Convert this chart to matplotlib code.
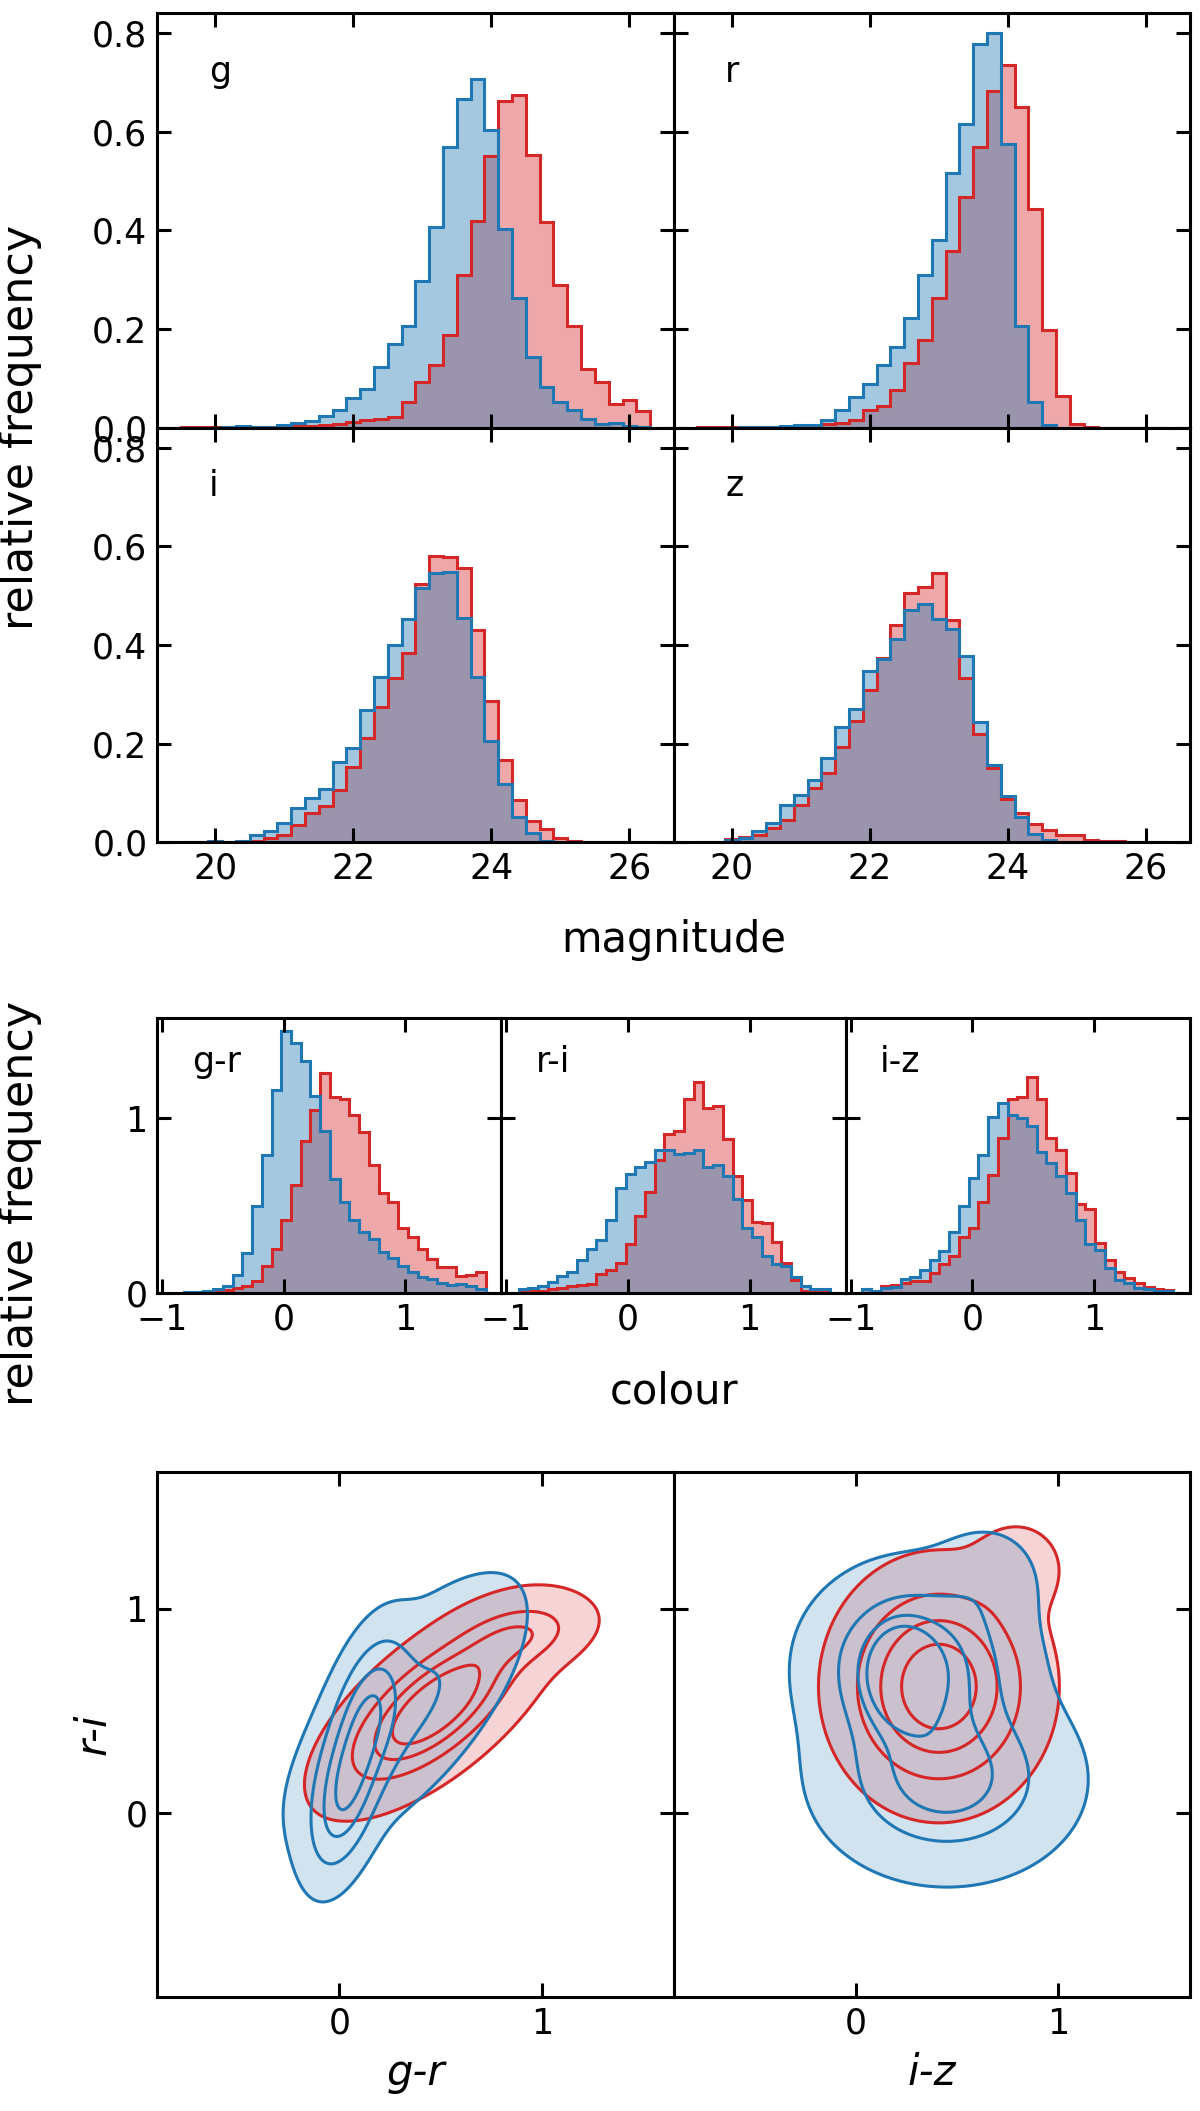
import numpy as np
import matplotlib
matplotlib.use("Agg")
import matplotlib.pyplot as plt

BLUE = "#1f77b4"
RED = "#d62728"

# ---- magnitude histograms (relative frequency), bins of 0.2 mag starting at 19.5
mag_lo, mag_step = 19.5, 0.2
mag_bands = ["g", "r", "i", "z"]

g_blue = [0, 0, 0, 0.001, 0.003, 0.001, 0.002, 0.005, 0.010, 0.014, 0.024, 0.035,
          0.061, 0.078, 0.122, 0.169, 0.206, 0.297, 0.407, 0.570, 0.666, 0.707,
          0.603, 0.403, 0.262, 0.144, 0.082, 0.052, 0.036, 0.018, 0.007, 0.010,
          0.003, 0.002]
g_red = [0.001, 0.002, 0.002, 0.002, 0.001, 0.001, 0.002, 0.002, 0.003, 0.003,
         0.005, 0.007, 0.012, 0.016, 0.018, 0.022, 0.052, 0.093, 0.127, 0.187,
         0.309, 0.419, 0.551, 0.663, 0.675, 0.553, 0.418, 0.290, 0.206, 0.119,
         0.093, 0.048, 0.056, 0.034]
r_blue = [0, 0, 0, 0.001, 0.001, 0.002, 0.003, 0.005, 0.005, 0.015, 0.035, 0.063,
          0.088, 0.127, 0.163, 0.223, 0.309, 0.380, 0.516, 0.615, 0.778, 0.801,
          0.576, 0.206, 0.052, 0.005, 0, 0, 0, 0, 0, 0, 0, 0]
r_red = [0.001, 0.001, 0.001, 0.001, 0.001, 0.001, 0.002, 0.003, 0.003, 0.007,
         0.010, 0.015, 0.035, 0.044, 0.076, 0.132, 0.177, 0.262, 0.359, 0.468,
         0.569, 0.683, 0.736, 0.650, 0.443, 0.199, 0.064, 0.007, 0.001, 0, 0, 0,
         0, 0]
i_blue = [0, 0, 0.002, 0.001, 0.003, 0.015, 0.022, 0.038, 0.070, 0.089, 0.107,
          0.162, 0.190, 0.267, 0.335, 0.400, 0.453, 0.515, 0.546, 0.547, 0.455,
          0.335, 0.205, 0.118, 0.051, 0.019, 0.003, 0.001, 0, 0, 0, 0, 0, 0]
i_red = [0.001, 0.001, 0.001, 0.001, 0.001, 0.003, 0.009, 0.015, 0.034, 0.058,
         0.074, 0.105, 0.152, 0.212, 0.275, 0.333, 0.383, 0.523, 0.580, 0.578,
         0.556, 0.430, 0.286, 0.166, 0.086, 0.043, 0.027, 0.008, 0.002, 0.001,
         0, 0, 0, 0]
z_blue = [0, 0.001, 0.005, 0.008, 0.023, 0.038, 0.075, 0.096, 0.125, 0.170, 0.233,
          0.269, 0.347, 0.371, 0.412, 0.470, 0.484, 0.453, 0.432, 0.378, 0.244,
          0.157, 0.094, 0.051, 0.017, 0.005, 0.001, 0, 0, 0, 0, 0, 0, 0]
z_red = [0.001, 0.001, 0.007, 0.010, 0.015, 0.029, 0.044, 0.075, 0.109, 0.140,
         0.193, 0.246, 0.308, 0.373, 0.441, 0.506, 0.518, 0.546, 0.450, 0.332,
         0.220, 0.150, 0.087, 0.058, 0.036, 0.025, 0.014, 0.015, 0.005, 0.003,
         0.002, 0.001, 0.001, 0.001]

# ---- colour histograms, bins of 0.08 mag
col_step = 0.08
col_names = ["g-r", "r-i", "i-z"]
col_lo = [-0.82, -0.90, -0.91]

gr_blue = [0.005, 0.008, 0.012, 0.02, 0.04, 0.105, 0.23, 0.50, 0.79, 1.16, 1.50,
           1.43, 1.33, 1.13, 0.93, 0.65, 0.52, 0.42, 0.35, 0.31, 0.235, 0.20,
           0.153, 0.12, 0.09, 0.08, 0.057, 0.044, 0.05, 0.038, 0.023]
gr_red = [0, 0, 0.003, 0.008, 0.015, 0.03, 0.04, 0.067, 0.153, 0.25, 0.42, 0.62,
          0.87, 1.05, 1.26, 1.12, 1.11, 1.02, 0.92, 0.73, 0.57, 0.52, 0.37, 0.32,
          0.25, 0.195, 0.15, 0.15, 0.096, 0.105, 0.12]
ri_blue = [0.02, 0.03, 0.04, 0.064, 0.097, 0.12, 0.19, 0.25, 0.305, 0.42, 0.60,
           0.68, 0.72, 0.75, 0.82, 0.82, 0.795, 0.80, 0.82, 0.72, 0.73, 0.67, 0.54,
           0.37, 0.32, 0.21, 0.164, 0.155, 0.093, 0.04, 0.025, 0.02]
ri_red = [0.005, 0.01, 0.013, 0.02, 0.03, 0.04, 0.048, 0.054, 0.106, 0.13, 0.174,
          0.28, 0.44, 0.58, 0.76, 0.91, 0.93, 1.11, 1.21, 1.06, 1.07, 0.88, 0.67,
          0.535, 0.405, 0.40, 0.29, 0.174, 0.077, 0.01, 0.01, 0.005]
iz_blue = [0.02, 0.013, 0.03, 0.035, 0.08, 0.09, 0.13, 0.19, 0.24, 0.35, 0.50,
           0.66, 0.79, 1.01, 1.09, 1.02, 1.00, 0.955, 0.805, 0.745, 0.67, 0.57,
           0.42, 0.28, 0.245, 0.145, 0.077, 0.058, 0.029, 0.02, 0.014, 0.01]
iz_red = [0.025, 0.013, 0.04, 0.048, 0.058, 0.068, 0.068, 0.116, 0.168, 0.21,
          0.32, 0.37, 0.52, 0.675, 0.89, 1.11, 1.125, 1.235, 1.11, 0.89, 0.82,
          0.685, 0.51, 0.48, 0.285, 0.187, 0.12, 0.087, 0.058, 0.035, 0.02, 0.017]

# ---- colour-colour densities: gaussian components (weight, x0, y0, sx, sy, rho)
gr_ri_blue = [(0.30, 0.03, 0.10, 0.095, 0.21, 0.45),
              (0.30, 0.14, 0.48, 0.100, 0.21, 0.45),
              (0.40, 0.33, 0.50, 0.300, 0.34, 0.70)]
gr_ri_red = [(0.88, 0.47, 0.52, 0.270, 0.235, 0.68),
             (0.12, 0.92, 0.88, 0.180, 0.100, 0.30)]
iz_ri_blue = [(0.10, 0.22, 0.68, 0.10, 0.14, 0.00),
              (0.44, 0.30, 0.72, 0.28, 0.25, 0.00),
              (0.43, 0.45, 0.16, 0.32, 0.24, 0.00),
              (0.03, 0.65, 1.15, 0.15, 0.15, 0.00)]
iz_ri_red = [(0.96, 0.41, 0.62, 0.245, 0.275, 0.00),
             (0.04, 0.80, 1.20, 0.12, 0.12, 0.00)]
enclosed = [0.95, 0.7125, 0.475, 0.2375]

plt.rcParams["font.family"] = "DejaVu Sans"
fig = plt.figure(figsize=(6, 10.555), dpi=200)

L, R = 0.131, 0.9917
LW = 1.1
TICK_FS = 12.5


def style(ax):
    ax.tick_params(direction="in", top=True, right=True, length=5, width=LW,
                   labelsize=TICK_FS)
    for sp in ax.spines.values():
        sp.set_linewidth(LW)


def draw_hist(ax, edges, red, blue):
    ax.stairs(red, edges, fill=True, color=RED, alpha=0.4, lw=0)
    ax.stairs(blue, edges, fill=True, color=BLUE, alpha=0.4, lw=0)
    ax.stairs(red, edges, color=RED, lw=LW)
    ax.stairs(blue, edges, color=BLUE, lw=LW)


# ---- top block: magnitudes
T1, B1 = 0.9938, 0.6011
gs1 = fig.add_gridspec(2, 2, left=L, right=R, top=T1, bottom=B1,
                       wspace=0, hspace=0)
mag_blue = [g_blue, r_blue, i_blue, z_blue]
mag_red = [g_red, r_red, i_red, z_red]
mag_edges = mag_lo + mag_step * np.arange(len(g_blue) + 1)
for k, band in enumerate(mag_bands):
    ax = fig.add_subplot(gs1[k // 2, k % 2])
    draw_hist(ax, mag_edges, mag_red[k], mag_blue[k])
    ax.set_xlim(19.16, 26.64)
    ax.set_ylim(0, 0.841)
    ax.set_xticks([20, 22, 24, 26])
    ax.set_yticks([0.0, 0.2, 0.4, 0.6, 0.8])
    style(ax)
    ax.text(0.1, 0.9, band, transform=ax.transAxes, va="top", ha="left",
            fontsize=TICK_FS)
    if k < 2:
        ax.tick_params(labelbottom=False)
    if k % 2 == 1:
        ax.tick_params(labelleft=False)
fig.text(0.5 * (L + R), 0.5545, "magnitude", ha="center", va="center",
         fontsize=15)
fig.text(0.017, 0.5 * (T1 + B1), "relative frequency", rotation=90,
         ha="center", va="center", fontsize=16)

# ---- middle block: colours
T2, B2 = 0.5178, 0.3875
gs2 = fig.add_gridspec(1, 3, left=L, right=R, top=T2, bottom=B2, wspace=0)
col_blue = [gr_blue, ri_blue, iz_blue]
col_red = [gr_red, ri_red, iz_red]
for k, name in enumerate(col_names):
    ax = fig.add_subplot(gs2[0, k])
    edges = col_lo[k] + col_step * np.arange(len(col_blue[k]) + 1)
    draw_hist(ax, edges, col_red[k], col_blue[k])
    ax.set_xlim(-1.04, 1.79)
    ax.set_ylim(0, 1.575)
    ax.set_xticks([-1, 0, 1])
    ax.set_yticks([0, 1])
    style(ax)
    ax.text(0.1, 0.9, name, transform=ax.transAxes, va="top", ha="left",
            fontsize=TICK_FS)
    if k > 0:
        ax.tick_params(labelleft=False)
fig.text(0.5 * (L + R), 0.341, "colour", ha="center", va="center", fontsize=15)
fig.text(0.017, 0.43, "relative frequency", rotation=90,
         ha="center", va="center", fontsize=16)

# ---- bottom block: colour-colour density contours
T3, B3 = 0.3027, 0.054
gs3 = fig.add_gridspec(1, 2, left=L, right=R, top=T3, bottom=B3, wspace=0)
xg = np.linspace(-0.9, 1.65, 220)
yg = np.linspace(-0.9, 1.67, 220)
X, Y = np.meshgrid(xg, yg)


def mixture(comps):
    dens = np.zeros_like(X)
    for w, x0, y0, sx, sy, rho in comps:
        u = (X - x0) / sx
        v = (Y - y0) / sy
        q = (u * u - 2 * rho * u * v + v * v) / (1 - rho * rho)
        dens += w * np.exp(-0.5 * q) / (2 * np.pi * sx * sy * np.sqrt(1 - rho * rho))
    return dens


def hdr_levels(dens, probs):
    f = np.sort(dens.ravel())[::-1]
    c = np.cumsum(f)
    c /= c[-1]
    return [f[np.searchsorted(c, p)] for p in probs]


panels = [("g-r", gr_ri_red, gr_ri_blue), ("i-z", iz_ri_red, iz_ri_blue)]
for k, (xlab, red_c, blue_c) in enumerate(panels):
    ax = fig.add_subplot(gs3[0, k])
    zr = mixture(red_c)
    zb = mixture(blue_c)
    lr = hdr_levels(zr, enclosed)
    lb = hdr_levels(zb, enclosed)
    ax.contourf(X, Y, zr, levels=[lr[0], zr.max() * 1.01], colors=[RED], alpha=0.2)
    ax.contourf(X, Y, zb, levels=[lb[0], zb.max() * 1.01], colors=[BLUE], alpha=0.2)
    ax.contour(X, Y, zr, levels=lr, colors=RED, linewidths=LW)
    ax.contour(X, Y, zb, levels=lb, colors=BLUE, linewidths=LW)
    ax.set_xlim(-0.9, 1.65)
    ax.set_ylim(-0.9, 1.67)
    ax.set_xticks([0, 1])
    ax.set_yticks([0, 1])
    style(ax)
    ax.set_xlabel(xlab, fontsize=15, fontstyle="italic")
    if k == 0:
        ax.set_ylabel("r-i", fontsize=15, fontstyle="italic")
    else:
        ax.tick_params(labelleft=False)

fig.savefig("out.png", dpi=200)
plt.close(fig)
